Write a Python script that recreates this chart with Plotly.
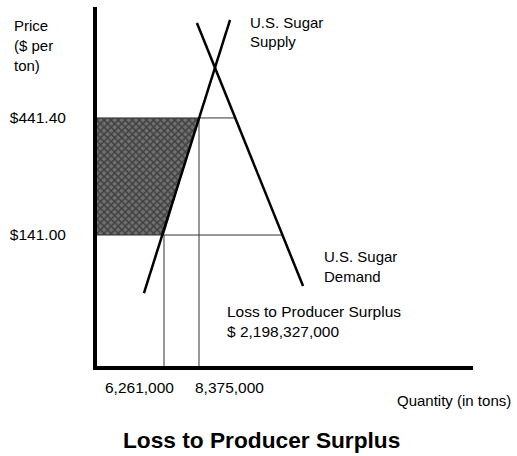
import numpy as np
import plotly.graph_objects as go

# ---- data ----
price_levels = [141.00, 441.40]            # world price, US (support) price
price_labels = ["$141.00", "$441.40"]
qty_levels = [6261000, 8375000]            # US quantity supplied at each price
qty_labels = ["6,261,000", "8,375,000"]

supply_q = [5050000, 10250000]
supply_p = [-8, 693]
demand_q = [14660000, 8250000]
demand_p = [10, 685]

loss_text = "$ 2,198,327,000"

# ---- layout constants ----
W, H = 517, 456
ML, MR, MT, MB = 97, 44, 7, 90
x_range = [2214000, 24925000]
y_range = [-195, 726]

def px(x):
    return (x - ML) / (W - ML - MR)

def py(y):
    return (H - MB - y) / (H - MT - MB)

FONT = "Liberation Sans, Arial, sans-serif"
fig = go.Figure()

xmin = x_range[0]
ybot = y_range[0]

# shaded producer surplus loss area
fig.add_trace(go.Scatter(
    x=[xmin, qty_levels[1], qty_levels[0], xmin, xmin],
    y=[price_levels[1], price_levels[1], price_levels[0], price_levels[0], price_levels[1]],
    mode="lines", fill="toself", line=dict(width=0),
    fillcolor="#666666",
    fillpattern=dict(shape="x", size=5, solidity=0.5, fgcolor="#111111", bgcolor="#707070"),
    hoverinfo="skip", showlegend=False))

# demand quantities at each price (from the demand line)
order = np.argsort(demand_p)
dq = np.interp(price_levels, np.array(demand_p)[order], np.array(demand_q)[order])

guide = dict(color="#333333", width=1)
for p, q in zip(price_levels, dq):
    fig.add_trace(go.Scatter(x=[xmin, q], y=[p, p], mode="lines", line=guide,
                             hoverinfo="skip", showlegend=False))
for q, p in zip(qty_levels, price_levels):
    fig.add_trace(go.Scatter(x=[q, q], y=[ybot, p], mode="lines", line=guide,
                             hoverinfo="skip", showlegend=False))

fig.add_trace(go.Scatter(x=supply_q, y=supply_p, mode="lines",
                         line=dict(color="black", width=2.5), showlegend=False))
fig.add_trace(go.Scatter(x=demand_q, y=demand_p, mode="lines",
                         line=dict(color="black", width=2.5), showlegend=False))

ann = []
def text(t, x, y, size=15, anchor="left", bold=False):
    ann.append(dict(text=t, x=px(x), y=py(y), xref="paper", yref="paper",
                    xanchor=anchor, yanchor="middle", showarrow=False,
                    font=dict(family=FONT, size=size, color="black",
                              weight="bold" if bold else "normal")))

text("Price", 12, 25.5)
text("($ per", 12, 45.5)
text("ton)", 12, 66)
text("U.S. Sugar", 248, 22.5)
text("Supply", 248, 41.5)
text("U.S. Sugar", 322, 256)
text("Demand", 322, 276)
text("Loss to Producer Surplus", 225, 311.5, size=15.5)
text(loss_text, 225, 331.5, size=15.5)
text("Quantity (in tons)", 513, 400.5, anchor="right")
text("Loss to Producer Surplus", 261.5, 440, size=22.7, anchor="center", bold=True)

# x tick labels placed near their quantity lines
ann.append(dict(text=qty_labels[0], x=qty_levels[0], y=py(387), xref="x", yref="paper",
                xanchor="right", yanchor="middle", xshift=12, showarrow=False,
                font=dict(family=FONT, size=15.5, color="black")))
ann.append(dict(text=qty_labels[1], x=qty_levels[1], y=py(387), xref="x", yref="paper",
                xanchor="left", yanchor="middle", xshift=-6, showarrow=False,
                font=dict(family=FONT, size=15.5, color="black")))

fig.update_layout(
    width=W, height=H, autosize=False,
    margin=dict(l=ML, r=MR, t=MT, b=MB),
    paper_bgcolor="white", plot_bgcolor="white",
    annotations=ann, showlegend=False,
    xaxis=dict(range=x_range, showgrid=False, zeroline=False, showticklabels=False,
               ticks="", showline=True, linecolor="black", linewidth=4, fixedrange=True),
    yaxis=dict(range=y_range, showgrid=False, zeroline=False,
               tickvals=price_levels, ticktext=price_labels, ticks="",
               ticklabelstandoff=24,
               tickfont=dict(family=FONT, size=15.5, color="black"),
               showline=True, linecolor="black", linewidth=4, fixedrange=True),
)

fig.write_html("out.html", config={"displayModeBar": False},
               post_script="document.body.style.margin='0';document.body.style.overflow='hidden';")
